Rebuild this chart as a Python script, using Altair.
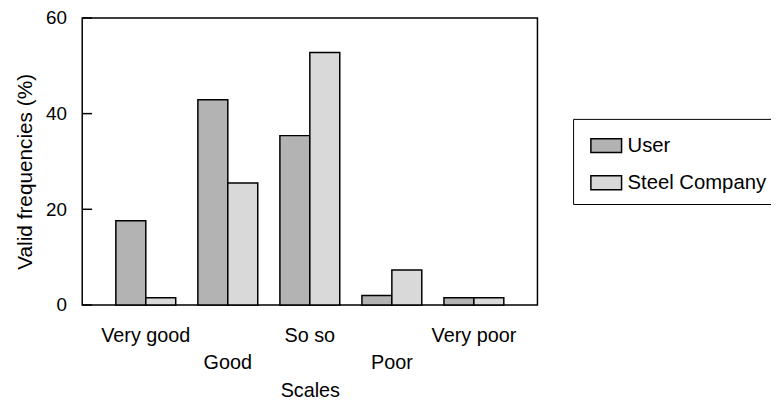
import altair as alt
import pandas as pd

categories = ["Very good", "Good", "So so", "Poor", "Very poor"]
series = ["User", "Steel Company"]
user_values = [17.6, 42.9, 35.4, 2.0, 1.5]
steel_values = [1.5, 25.5, 52.8, 7.3, 1.5]
y_ticks = [0, 20, 40, 60]
colors = ["#b3b3b3", "#d9d9d9"]

rows = []
for c, u, s in zip(categories, user_values, steel_values):
    rows.append({"Scale": c, "Series": series[0], "Value": u})
    rows.append({"Scale": c, "Series": series[1], "Value": s})
df = pd.DataFrame(rows)
tick_df = pd.DataFrame({"t": y_ticks})

font = "Liberation Sans"

x_enc = alt.X(
    "Scale:N",
    sort=categories,
    scale=alt.Scale(paddingInner=0.27, paddingOuter=0.41),
    axis=alt.Axis(
        title="Scales", labelAngle=0, domain=False, ticks=False, tickSize=0,
        labelPadding=21, labelBaseline="top", labelLineHeight=27,
        labelExpr="indexof(['Good','Poor'], datum.value) >= 0 ? ['', datum.value] : datum.value",
        labelOverlap=False, labelFontSize=20, titleFontSize=20, titleY=93,
        titleBaseline="alphabetic", labelColor="black", titleColor="black",
        titleFontWeight="normal", labelFont=font, titleFont=font,
    ),
)

y_enc = alt.Y(
    "Value:Q",
    scale=alt.Scale(domain=[0, 60], nice=False),
    axis=alt.Axis(
        values=y_ticks, title="Valid frequencies (%)", domain=False, ticks=False,
        tickSize=0, labelPadding=16, grid=False, labelFontSize=19, titleFontSize=21,
        titleX=-51.5, titleY=155, titleBaseline="alphabetic", labelColor="black",
        titleColor="black", titleFontWeight="normal", labelFont=font, titleFont=font,
    ),
)

bars = alt.Chart(df).mark_bar(stroke="black", strokeWidth=1.5, opacity=1).encode(
    x=x_enc,
    xOffset=alt.XOffset("Series:N", sort=series),
    y=y_enc,
    fill=alt.Fill(
        "Series:N",
        sort=series,
        scale=alt.Scale(domain=series, range=colors),
        legend=alt.Legend(
            title=None, orient="none", legendX=496, legendY=102,
            strokeColor="black", padding=10.5, symbolOffset=6.5,
            symbolType="M-1,-0.45L1,-0.45L1,0.45L-1,0.45Z", symbolSize=961,
            symbolStrokeColor="black", symbolStrokeWidth=1.5, symbolOpacity=1,
            labelFontSize=20.5, labelFont=font, labelColor="black", labelOffset=5,
            rowPadding=10.5,
        ),
    ),
)

ticks = alt.Chart(tick_df).mark_rule(color="black", strokeWidth=1.5).encode(
    x=alt.value(0), x2=alt.value(10), y=alt.Y("t:Q")
)

chart = (
    alt.layer(bars, ticks)
    .properties(
        width=460, height=290,
        padding={"left": 75, "top": 8, "right": 236, "bottom": 97},
        autosize=alt.AutoSizeParams(type="none"),
    )
    .configure_view(stroke="black", strokeWidth=1.5)
)

chart.save("out.html", embed_options={"renderer": "svg", "actions": False})
